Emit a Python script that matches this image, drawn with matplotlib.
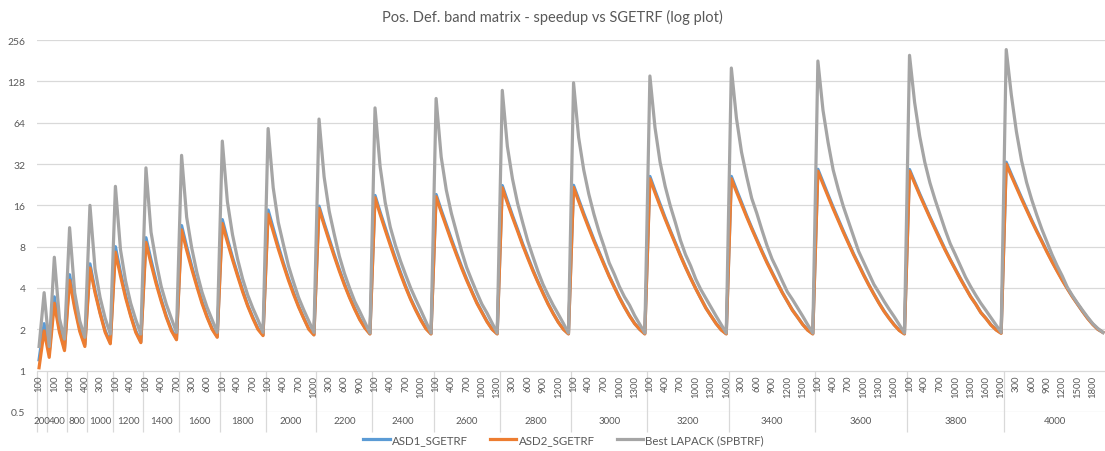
import numpy as np
import matplotlib
matplotlib.use('Agg')
import matplotlib.pyplot as plt

plt.rcParams['font.family'] = ['Lato', 'DejaVu Sans']

# ===== DATA =====
# matrix size N; for each N the band width kd goes 100 .. N/2 in steps of 100
matrix_sizes = [200, 400, 600, 800, 1000, 1200, 1400, 1600, 1800, 2000,
                2200, 2400, 2600, 2800, 3000, 3200, 3400, 3600, 3800, 4000]

# outer axis labels as Excel drew them (label, number of categories under it)
outer_labels = ["200", "400", "800", "1000", "1200", "1400", "1600", "1800", "2000", "2200",
                "2400", "2600", "2800", "3000", "3200", "3400", "3600", "3800", "4000"]
outer_spans = [2, 4, 4, 5, 6, 7, 8, 9, 10, 11, 12, 13, 14, 15, 16, 17, 18, 19, 20]

asd1_speedup = [
    [1.2],
    [2.2, 1.35],
    [3.45, 2.0, 1.45],
    [5.0, 3.0, 2.0, 1.55],
    [6.0, 3.85, 2.65, 1.95, 1.6],
    [8.0, 5.2, 3.55, 2.55, 1.95, 1.62],
    [9.3, 6.4, 4.5, 3.3, 2.5, 2.0, 1.7],
    [11.4, 8.0, 5.75, 4.25, 3.2, 2.5, 2.03, 1.77],
    [12.6, 9.1, 6.7, 5.05, 3.85, 3.0, 2.45, 2.03, 1.82],
    [14.8, 10.9, 8.1, 6.1, 4.7, 3.7, 2.95, 2.42, 2.02, 1.83],
    [15.8, 11.9, 9.1, 7.0, 5.45, 4.3, 3.45, 2.85, 2.38, 2.06, 1.86],
    [18.9, 14.3, 11.0, 8.5, 6.6, 5.2, 4.15, 3.35, 2.8, 2.36, 2.04, 1.86],
    [19.2, 14.8, 11.6, 9.1, 7.2, 5.75, 4.65, 3.8, 3.15, 2.68, 2.29, 2.01, 1.86],
    [22.3, 17.3, 13.5, 10.7, 8.4, 6.75, 5.45, 4.45, 3.7, 3.08, 2.62, 2.26, 2.01, 1.86],
    [22.4, 17.7, 14.0, 11.2, 9.0, 7.35, 6.0, 4.9, 4.1, 3.43, 2.92, 2.52, 2.21, 2.0, 1.86],
    [26, 20.5, 16.3, 13.0, 10.5, 8.55, 6.95, 5.7, 4.75, 3.98, 3.37, 2.87, 2.51, 2.21, 1.99, 1.86],
    [26, 20.8, 16.8, 13.5, 11.0, 9.05, 7.45, 6.2, 5.2, 4.4, 3.72, 3.2, 2.77, 2.46, 2.18, 1.98, 1.86],
    [29.3, 23.6, 19.1, 15.5, 12.7, 10.4, 8.6, 7.1, 5.95, 5.0, 4.23, 3.62, 3.12, 2.72, 2.41, 2.16, 1.97, 1.86],
    [29.2, 23.8, 19.4, 16.0, 13.2, 11.0, 9.15, 7.65, 6.45, 5.5, 4.7, 4.03, 3.47, 3.06, 2.66, 2.41, 2.16, 1.99, 1.88],
    [33, 26.9, 22.1, 18.2, 15.1, 12.5, 10.45, 8.8, 7.4, 6.25, 5.35, 4.6, 3.98, 3.47, 3.06, 2.7, 2.41, 2.18, 2.0, 1.9],
]

asd2_speedup = [
    [1.05],
    [1.95, 1.25],
    [3.1, 1.91, 1.4],
    [4.55, 2.85, 1.93, 1.5],
    [5.6, 3.7, 2.6, 1.9, 1.57],
    [7.3, 4.9, 3.4, 2.5, 1.9, 1.6],
    [8.6, 6.0, 4.3, 3.2, 2.45, 1.95, 1.68],
    [10.6, 7.55, 5.5, 4.1, 3.1, 2.45, 2.0, 1.75],
    [11.8, 8.65, 6.45, 4.9, 3.75, 2.95, 2.4, 2.0, 1.8],
    [13.8, 10.3, 7.7, 5.9, 4.55, 3.6, 2.9, 2.4, 2.0, 1.82],
    [15.2, 11.5, 8.8, 6.8, 5.3, 4.2, 3.4, 2.8, 2.35, 2.05, 1.85],
    [18.2, 13.8, 10.6, 8.2, 6.4, 5.05, 4.05, 3.3, 2.75, 2.33, 2.02, 1.85],
    [18.5, 14.3, 11.2, 8.8, 7.0, 5.6, 4.55, 3.75, 3.1, 2.65, 2.27, 2.0, 1.85],
    [21.5, 16.7, 13.1, 10.4, 8.2, 6.6, 5.35, 4.4, 3.65, 3.05, 2.6, 2.25, 2.0, 1.85],
    [21.6, 17.1, 13.6, 10.9, 8.8, 7.2, 5.9, 4.85, 4.05, 3.4, 2.9, 2.5, 2.2, 2.0, 1.85],
    [25, 19.8, 15.8, 12.7, 10.3, 8.4, 6.85, 5.65, 4.7, 3.95, 3.35, 2.85, 2.5, 2.2, 1.98, 1.85],
    [25, 20.1, 16.3, 13.2, 10.8, 8.9, 7.35, 6.1, 5.15, 4.35, 3.7, 3.2, 2.75, 2.45, 2.17, 1.97, 1.85],
    [28.4, 22.9, 18.6, 15.1, 12.4, 10.2, 8.45, 7.0, 5.9, 4.95, 4.2, 3.6, 3.1, 2.7, 2.4, 2.15, 1.96, 1.85],
    [28.4, 23.2, 19.0, 15.7, 13.0, 10.8, 9.0, 7.55, 6.4, 5.45, 4.65, 4.0, 3.45, 3.05, 2.65, 2.4, 2.15, 1.98, 1.87],
    [32, 26.2, 21.6, 17.8, 14.8, 12.3, 10.3, 8.7, 7.3, 6.2, 5.3, 4.55, 3.95, 3.45, 3.05, 2.7, 2.4, 2.17, 2.0, 1.9],
]

lapack_speedup = [
    [1.5],
    [3.7, 1.5],
    [6.7, 2.4, 1.7],
    [11, 3.7, 2.3, 1.75],
    [16, 5.5, 3.4, 2.4, 1.85],
    [22, 7.6, 4.5, 3.1, 2.35, 1.85],
    [30, 10.2, 6.2, 4.1, 3.05, 2.4, 1.9],
    [37, 13.1, 7.8, 5.2, 3.75, 2.9, 2.35, 1.9],
    [47, 17, 9.8, 6.5, 4.65, 3.55, 2.85, 2.35, 1.9],
    [58, 21.5, 12.0, 8.3, 5.8, 4.4, 3.4, 2.77, 2.29, 1.9],
    [68, 25.8, 14.5, 9.8, 6.8, 5.1, 4.0, 3.2, 2.7, 2.25, 1.88],
    [82, 30.7, 16.8, 11.1, 8.2, 6.3, 5.0, 4.0, 3.3, 2.75, 2.27, 1.88],
    [96, 36, 20.7, 14, 10.2, 7.45, 5.65, 4.55, 3.7, 3.05, 2.63, 2.22, 1.88],
    [110, 43, 25, 16.6, 12, 8.8, 6.8, 5.3, 4.25, 3.55, 3.0, 2.58, 2.21, 1.88],
    [125, 50, 29, 19.3, 13.8, 10.3, 8.0, 6.1, 5.05, 4.1, 3.45, 3.0, 2.52, 2.18, 1.88],
    [140, 59, 33, 22, 15.9, 12, 8.9, 7.0, 5.8, 4.65, 3.9, 3.36, 2.9, 2.5, 2.17, 1.88],
    [160, 69, 39, 26, 18, 14, 10.6, 8.15, 6.5, 5.45, 4.5, 3.75, 3.3, 2.87, 2.5, 2.16, 1.88],
    [180, 79, 46, 29, 21, 15.7, 12.2, 9.5, 7.4, 6.15, 5.1, 4.25, 3.7, 3.2, 2.8, 2.47, 2.16, 1.88],
    [198, 90, 51, 33, 23.4, 17.7, 13.7, 10.6, 8.4, 7.0, 5.8, 4.8, 4.1, 3.55, 3.1, 2.75, 2.43, 2.15, 1.9],
    [218, 102, 55, 34, 23.5, 17.6, 13.6, 10.7, 8.65, 7.0, 5.8, 4.9, 4.05, 3.52, 3.1, 2.75, 2.45, 2.2, 2.03, 1.9],
]

y_ticks = [0.5, 1, 2, 4, 8, 16, 32, 64, 128, 256]
y_tick_labels = ["0.5", "1", "2", "4", "8", "16", "32", "64", "128", "256"]
# ===== END DATA =====

TEXT = '#595959'
GRID = '#D9D9D9'

band_widths = [kd for n in matrix_sizes for kd in range(100, n // 2 + 1, 100)]
x = np.arange(len(band_widths))
asd1 = np.concatenate(asd1_speedup)
asd2 = np.concatenate(asd2_speedup)
lapack = np.concatenate(lapack_speedup)

fig = plt.figure(figsize=(11.05, 4.52), dpi=100)
ax = fig.add_axes([36.5 / 1105, 39 / 452, 1069 / 1105, 372 / 452])

l1, = ax.plot(x, asd1, color='#5B9BD5', lw=2.3, solid_joinstyle='round', label='ASD1_SGETRF')
l2, = ax.plot(x, asd2, color='#ED7D31', lw=2.3, solid_joinstyle='round', label='ASD2_SGETRF')
l3, = ax.plot(x, lapack, color='#A5A5A5', lw=2.3, solid_joinstyle='round', label='Best LAPACK (SPBTRF)')

ax.set_yscale('log', base=2)
ax.set_ylim(0.5, 256)
ax.set_xlim(-0.5, len(x) - 0.5)
ax.set_yticks(y_ticks)
ax.set_yticklabels(y_tick_labels)
ax.minorticks_off()
ax.set_xticks([])
ax.tick_params(axis='y', length=0, pad=8, labelsize=7.5, labelcolor=TEXT)
ax.grid(axis='y', color=GRID, lw=0.9)
ax.set_axisbelow(True)
for s in ax.spines.values():
    s.set_visible(False)

# inner category labels (band width), every third one like Excel
for i in range(0, len(x), 3):
    ax.text(x[i], 0.93, str(band_widths[i]), rotation=90, ha='center', va='top',
            fontsize=6.8, color=TEXT)

# outer category labels (matrix size) and separators
edges = np.concatenate([[-0.5], np.cumsum(outer_spans) - 0.5])
ax.vlines(edges[:-1], 0.36, 1, colors=GRID, lw=0.9, clip_on=False)
centers = (edges[:-1] + edges[1:]) / 2
for c, lab in zip(centers, outer_labels):
    ax.text(c, -0.022, lab, transform=ax.get_xaxis_transform(), ha='center', va='center',
            fontsize=7.0, color=TEXT)

fig.text(0.5, 1 - 17 / 452, 'Pos. Def. band matrix - speedup vs SGETRF (log plot)',
         ha='center', va='center', fontsize=10.5, color=TEXT)

fig.legend(handles=[l1, l2, l3], loc='center', bbox_to_anchor=(0.51, 1 - 441 / 452),
           ncol=3, frameon=False, fontsize=8.3, handlelength=2.3, columnspacing=1.9,
           handletextpad=0.2, labelcolor=TEXT)

fig.savefig('out.png', dpi=100)
